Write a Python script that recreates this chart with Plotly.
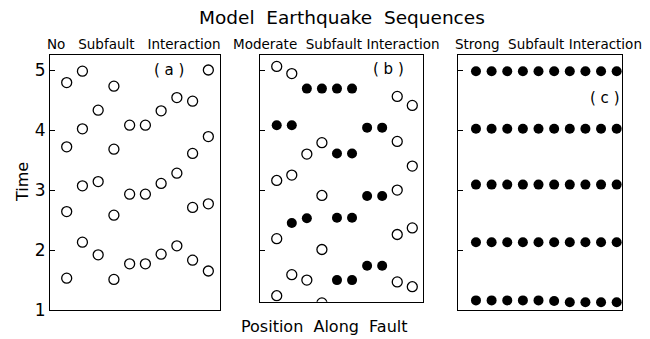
import plotly.graph_objects as go

positions = [1, 2, 3, 4, 5, 6, 7, 8, 9, 10]

# Panel (a): no interaction - event times per subfault (all open)
a_times = [
    [4.79, 3.72, 2.64, 1.53],
    [4.98, 4.02, 3.07, 2.13],
    [4.33, 3.14, 1.92],
    [4.73, 3.68, 2.58, 1.51],
    [4.08, 2.93, 1.77],
    [4.08, 2.93, 1.77],
    [4.32, 3.11, 1.93],
    [4.54, 3.28, 2.07],
    [4.48, 3.61, 2.71, 1.83],
    [5.00, 3.89, 2.77, 1.65],
]

# Panel (b): moderate interaction
b_open_times = [
    [5.06, 3.16, 2.19, 1.24],
    [4.94, 3.25, 1.59],
    [3.60, 1.50],
    [3.79, 2.91, 2.01, 1.12],
    [],
    [],
    [],
    [],
    [4.56, 3.81, 3.00, 2.26, 1.47],
    [4.41, 3.40, 2.37, 1.39],
]
b_filled_times = [
    [4.08],
    [4.08, 2.45],
    [4.69, 2.53],
    [4.69],
    [4.69, 3.61, 2.54, 1.50],
    [4.69, 3.61, 2.54, 1.50],
    [4.04, 2.90, 1.74],
    [4.04, 2.90, 1.74],
    [],
    [],
]

# Panel (c): strong interaction (all filled)
c_times = [
    [4.98, 4.02, 3.09, 2.13, 1.16],
    [4.98, 4.02, 3.09, 2.13, 1.16],
    [4.98, 4.02, 3.09, 2.13, 1.16],
    [4.98, 4.02, 3.09, 2.13, 1.16],
    [4.98, 4.02, 3.09, 2.13, 1.16],
    [4.98, 4.02, 3.09, 2.13, 1.15],
    [4.98, 4.02, 3.09, 2.13, 1.13],
    [4.98, 4.02, 3.09, 2.13, 1.13],
    [4.98, 4.02, 3.09, 2.13, 1.13],
    [4.98, 4.02, 3.09, 2.13, 1.13],
]

panel_titles = ["No   Subfault   Interaction", "Moderate  Subfault Interaction", "Strong  Subfault Interaction"]
panel_labels = ["( a )", "( b )", "( c )"]
y_ticks = [1, 2, 3, 4, 5]


def flatten(times):
    xs, ys = [], []
    for p, ts in zip(positions, times):
        for t in ts:
            xs.append(p)
            ys.append(t)
    return xs, ys


FONT = "DejaVu Sans"
open_marker = dict(symbol="circle-open", size=10, color="black", line=dict(width=1.3, color="black"))
filled_marker = dict(symbol="circle", size=10, color="black")

fig = go.Figure()
xa, ya = flatten(a_times)
fig.add_trace(go.Scatter(x=xa, y=ya, mode="markers", marker=open_marker, xaxis="x", yaxis="y"))
xb, yb = flatten(b_open_times)
fig.add_trace(go.Scatter(x=xb, y=yb, mode="markers", marker=open_marker, xaxis="x2", yaxis="y2"))
xbf, ybf = flatten(b_filled_times)
fig.add_trace(go.Scatter(x=xbf, y=ybf, mode="markers", marker=filled_marker, xaxis="x2", yaxis="y2"))
xc, yc = flatten(c_times)
fig.add_trace(go.Scatter(x=xc, y=yc, mode="markers", marker=filled_marker, xaxis="x3", yaxis="y3"))

L, R, T, B = 50, 622, 55, 310
W = float(R - L)
H = float(B - T)


def px(xp, yp):
    return (xp - L) / W, (B - yp) / H


xdoms = [[0.0, 170 / W], [210 / W, 373 / W], [408 / W, 1.0]]
xranges = [[-0.06, 10.74], [-0.11, 10.71], [-0.15, 10.34]]
ydoms = [[0.0, 1.0], [0.0325, 1.0], [0.0, 1.0]]
yranges = [[1.0, 5.25], [1.14, 5.25], [1.0, 5.25]]

axis_common = dict(showline=True, linecolor="black", linewidth=1.2, mirror=True,
                   showgrid=False, zeroline=False)
layout = dict(
    width=650, height=339,
    margin=dict(l=L, r=650 - R, t=T, b=339 - B),
    paper_bgcolor="white", plot_bgcolor="white",
    showlegend=False,
    font=dict(family=FONT, color="black"),
)
for i in range(3):
    s = "" if i == 0 else str(i + 1)
    layout["xaxis" + s] = dict(axis_common, domain=xdoms[i], range=xranges[i], showticklabels=False,
                               ticks="", anchor="y" + s)
    layout["yaxis" + s] = dict(axis_common, domain=ydoms[i], range=yranges[i], anchor="x" + s,
                               tickvals=y_ticks, ticktext=[str(v) for v in y_ticks],
                               ticks="inside", ticklen=5, tickwidth=1.1, tickcolor="black",
                               showticklabels=(i == 0), tickfont=dict(size=17, family=FONT))
fig.update_layout(**layout)

anns = []


def add_text(text, xp, yp, size, angle=0):
    x, y = px(xp, yp)
    anns.append(dict(text=text, x=x, y=y, xref="paper", yref="paper", showarrow=False, textangle=angle,
                     font=dict(size=size, family=FONT), xanchor="center", yanchor="middle"))


title_x = [134, 336, 548]
for i in range(3):
    add_text(panel_titles[i], title_x[i], 44, 13.5)
label_pos = [(169, 70), (388, 69), (605, 98)]
for i in range(3):
    add_text(panel_labels[i], label_pos[i][0], label_pos[i][1], 15)
add_text("Model  Earthquake  Sequences", 342, 17, 18.5)
add_text("Position  Along  Fault", 324, 326, 16)
add_text("Time", 22, 182, 16, -90)
fig.update_layout(annotations=anns)

fig.write_html("out.html", config={"displayModeBar": False},
               post_script="document.body.style.margin='0';")
